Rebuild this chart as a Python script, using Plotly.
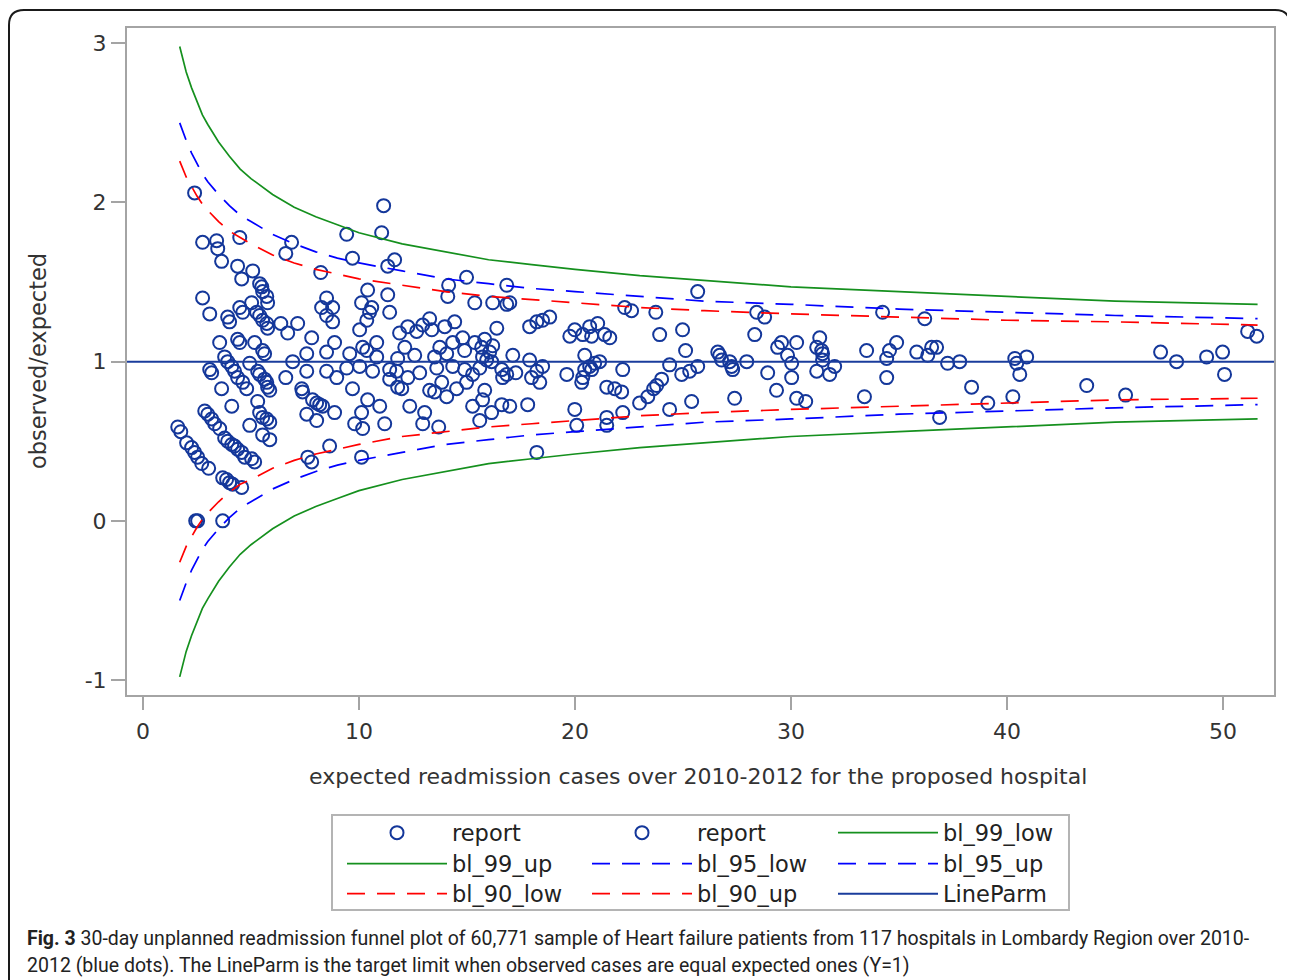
import plotly.graph_objects as go

# ---------------- data ----------------
report1_x = [2.39, 2.76, 3.41, 3.46, 3.64, 4.48, 4.38, 5.08, 4.57,
             2.76, 3.09, 3.92, 4.01, 4.48, 4.62, 5.03, 5.26,
             3.55, 4.38, 4.48, 5.17,
             3.78, 3.92, 4.11, 4.24, 4.38, 4.62, 4.80,
             4.94, 3.09, 3.18, 3.64, 4.11, 4.94, 5.31,
             2.86, 3.00, 3.18, 3.32, 3.55,
             3.78, 3.92, 4.11, 4.24, 4.38, 4.57, 4.71, 5.03,
             1.61, 1.75,
             2.02, 2.25, 2.39, 2.53, 2.72, 3.04,
             3.69, 3.87, 4.01, 4.15, 4.57,
             2.44, 2.53, 3.69,
             6.88, 6.61, 8.23,
             5.40, 5.50, 5.54, 5.73, 5.77,
             5.40, 5.54, 5.73, 5.77,
             6.38, 6.70, 7.16,
             8.50, 8.27, 8.78, 8.50, 8.78,
             7.81, 7.58, 8.50, 8.87,
             5.54, 5.63, 6.93,
             5.31, 5.40, 5.63, 5.73, 5.77, 5.87,
             6.61, 7.58, 8.50,
             7.35, 7.39,
             7.85, 8.04, 8.18, 8.32,
             8.87, 7.58, 8.04,
             5.40, 5.54, 5.73, 5.87,
             5.54, 5.87,
             5.17,
             7.63, 7.81, 8.64,
             11.14, 11.05, 9.43, 9.70, 11.65, 11.33,
             10.40, 10.12, 10.59, 10.49, 10.36, 10.03,
             11.33, 11.42,
             8.97,
             9.57, 10.17, 10.36, 10.82, 10.82,
             10.03, 10.63, 9.43,
             11.88, 12.26, 12.67, 12.95, 13.27,
             12.12, 12.58, 11.79,
             11.42, 11.74, 12.26, 12.81,
             11.42, 11.79, 11.98, 13.27,
             9.70,
             10.40, 10.96, 10.12, 9.80, 10.17, 11.19, 12.35, 13.04, 12.95,
             10.12]
report1_y = [2.06, 1.75, 1.76, 1.71, 1.63, 1.78, 1.60, 1.57, 1.52,
             1.40, 1.30, 1.28, 1.25, 1.34, 1.31, 1.37, 1.31,
             1.12, 1.14, 1.12, 1.12,
             1.03, 1.00, 0.97, 0.94, 0.90, 0.87, 0.83,
             0.99, 0.95, 0.93, 0.83, 0.72, 0.60, 0.75,
             0.69, 0.67, 0.64, 0.61, 0.58,
             0.52, 0.50, 0.48, 0.47, 0.45, 0.43, 0.40, 0.39,
             0.59, 0.56,
             0.49, 0.46, 0.43, 0.40, 0.36, 0.33,
             0.27, 0.26, 0.24, 0.23, 0.21,
             0.0, 0.0, 0.0,
             1.75, 1.68, 1.56,
             1.49, 1.47, 1.44, 1.41, 1.37,
             1.29, 1.26, 1.24, 1.21,
             1.24, 1.18, 1.24,
             1.40, 1.34, 1.34, 1.29, 1.25,
             1.15, 1.05, 1.06, 1.12,
             1.07, 1.05, 1.00,
             0.94, 0.92, 0.89, 0.87, 0.84, 0.82,
             0.90, 0.94, 0.94,
             0.83, 0.81,
             0.76, 0.74, 0.73, 0.72,
             0.68, 0.67, 0.63,
             0.68, 0.65, 0.64, 0.62,
             0.54, 0.51,
             0.37,
             0.40, 0.37, 0.47,
             1.98, 1.81, 1.80, 1.65, 1.64, 1.60,
             1.45, 1.37, 1.34, 1.31, 1.26, 1.20,
             1.42, 1.31,
             0.90,
             1.05, 1.09, 1.07, 1.12, 1.03,
             0.97, 0.94, 0.96,
             1.18, 1.22, 1.19, 1.23, 1.27,
             1.09, 1.04, 1.02,
             0.95, 0.94, 0.90, 0.93,
             0.89, 0.84, 0.83, 0.82,
             0.83,
             0.76, 0.72, 0.68, 0.61, 0.58, 0.61, 0.72, 0.68, 0.61,
             0.40]

report2_x = [14.98, 14.15, 14.11, 16.84,
             15.36, 16.19, 16.84, 16.98,
             13.37, 13.97, 14.43, 16.38, 17.90, 18.23,
             14.80, 14.34, 13.74, 15.36, 15.82, 16.19, 15.68, 16.05, 14.89, 14.06, 13.50, 15.72, 15.91, 16.14,
             17.12, 17.90,
             13.60, 14.34, 14.89, 15.26, 15.59, 16.61, 16.65, 16.84, 17.26,
             17.99, 18.23,
             13.83, 13.50, 14.06, 14.52, 14.98, 15.82, 15.72, 15.26, 16.14, 15.59, 16.61, 16.98, 17.81,
             13.69, 18.23,
             18.50, 18.83, 18.50, 18.37,
             22.30, 22.62, 23.74,
             19.99, 19.76, 20.36, 20.68, 21.05, 20.77, 21.37, 21.61,
             23.92,
             20.45, 20.91, 21.14, 20.68, 20.45, 20.36, 20.31, 20.77,
             19.62, 22.21, 24.38,
             21.47, 21.84, 22.16,
             24.01, 23.78, 23.64, 23.37, 22.99,
             19.99, 21.47, 22.21, 24.38,
             20.08, 21.47,
             25.68, 28.41, 28.78, 34.24, 24.98, 28.32, 25.12,
             26.61, 26.70, 26.79, 27.16, 27.25, 27.30, 27.95,
             29.56, 29.38, 30.26, 29.84, 30.03,
             31.33, 31.19, 31.42, 31.46, 31.46,
             33.50, 34.56, 34.43, 34.89,
             24.94, 25.31, 25.68,
             28.92, 30.03, 31.19, 31.79, 32.02, 34.43,
             29.33, 25.40, 27.39, 30.26, 30.68, 33.40,
             36.19, 35.82, 36.33, 36.51, 36.74, 37.25, 37.81,
             40.36, 40.45, 40.59, 40.91,
             38.36, 39.11, 40.27, 36.88, 43.69, 45.49,
             47.11, 47.85, 49.24, 49.98, 50.07, 51.14, 51.56]
report2_y = [1.53, 1.48, 1.41, 1.48,
             1.37, 1.37, 1.36, 1.37,
             1.20, 1.22, 1.25, 1.21, 1.22, 1.25,
             1.15, 1.12, 1.09, 1.12, 1.14, 1.10, 1.09, 1.06, 1.07, 1.05, 1.03, 1.03, 1.01, 1.00,
             1.04, 1.01,
             0.96, 0.97, 0.95, 0.92, 0.96, 0.95, 0.90, 0.92, 0.93,
             0.90, 0.94,
             0.87, 0.81, 0.78, 0.83, 0.87, 0.82, 0.76, 0.72, 0.68, 0.63, 0.73, 0.72, 0.73,
             0.59, 0.43,
             1.26, 1.28, 0.97, 0.87,
             1.34, 1.32, 1.31,
             1.20, 1.16, 1.17, 1.22, 1.24, 1.16, 1.17, 1.15,
             1.17,
             1.04, 0.99, 1.00, 0.97, 0.95, 0.90, 0.87, 0.95,
             0.92, 0.95, 0.98,
             0.84, 0.83, 0.81,
             0.89, 0.85, 0.83, 0.78, 0.74,
             0.70, 0.65, 0.68, 0.70,
             0.60, 0.60,
             1.44, 1.31, 1.28, 1.31, 1.20, 1.17, 1.07,
             1.06, 1.04, 1.01, 1.00, 0.97, 0.95, 1.00,
             1.12, 1.09, 1.12, 1.04, 0.99,
             1.15, 1.09, 1.07, 1.05, 1.01,
             1.07, 1.07, 1.02, 1.12,
             0.92, 0.94, 0.97,
             0.93, 0.90, 0.94, 0.92, 0.97, 0.90,
             0.82, 0.75, 0.77, 0.77, 0.75, 0.78,
             1.27, 1.06, 1.04, 1.09, 1.09, 0.99, 1.00,
             1.02, 0.99, 0.92, 1.03,
             0.84, 0.74, 0.78, 0.65, 0.85, 0.79,
             1.06, 1.00, 1.03, 1.06, 0.92, 1.19, 1.16]

limit_x = [1.7, 1.85, 2.0, 2.25, 2.5, 2.75, 3.0, 3.5, 4.0, 4.5, 5.0, 6.0, 7.0, 8.0,
           9.0, 10.0, 12.0, 14.0, 16.0, 18.0, 20.0, 23.0, 26.0, 30.0, 35.0, 40.0, 45.0, 51.6]
bl_99_up = [2.98, 2.89, 2.82, 2.72, 2.63, 2.55, 2.49, 2.38, 2.29, 2.21, 2.15, 2.05, 1.97, 1.91,
            1.86, 1.81, 1.74, 1.69, 1.64, 1.61, 1.58, 1.54, 1.51, 1.47, 1.44, 1.41, 1.38, 1.36]
bl_99_low = [-0.98, -0.89, -0.82, -0.72, -0.63, -0.55, -0.49, -0.38, -0.29, -0.21, -0.15, -0.05, 0.03, 0.09,
             0.14, 0.19, 0.26, 0.31, 0.36, 0.39, 0.42, 0.46, 0.49, 0.53, 0.56, 0.59, 0.62, 0.64]
bl_95_up = [2.50, 2.44, 2.39, 2.31, 2.24, 2.18, 2.13, 2.05, 1.98, 1.92, 1.88, 1.80, 1.74, 1.69,
            1.65, 1.62, 1.57, 1.52, 1.49, 1.46, 1.44, 1.41, 1.38, 1.36, 1.33, 1.31, 1.29, 1.27]
bl_95_low = [-0.50, -0.44, -0.39, -0.31, -0.24, -0.18, -0.13, -0.05, 0.02, 0.08, 0.12, 0.20, 0.26, 0.31,
             0.35, 0.38, 0.43, 0.48, 0.51, 0.54, 0.56, 0.59, 0.62, 0.64, 0.67, 0.69, 0.71, 0.73]
bl_90_up = [2.26, 2.21, 2.16, 2.10, 2.04, 1.99, 1.95, 1.88, 1.82, 1.78, 1.74, 1.67, 1.62, 1.58,
            1.55, 1.52, 1.48, 1.44, 1.41, 1.39, 1.37, 1.34, 1.32, 1.30, 1.28, 1.26, 1.25, 1.23]
bl_90_low = [-0.26, -0.21, -0.16, -0.10, -0.04, 0.01, 0.05, 0.12, 0.18, 0.23, 0.26, 0.33, 0.38, 0.42,
             0.45, 0.48, 0.53, 0.56, 0.59, 0.61, 0.63, 0.66, 0.68, 0.70, 0.72, 0.74, 0.76, 0.77]
lineparm_x = [-0.8, 52.5]
lineparm_y = [1.0, 1.0]

x_ticks = [0, 10, 20, 30, 40, 50]
y_ticks = [-1, 0, 1, 2, 3]
y_ticktext = ["-1", "0", "1", "2", "3"]

x_title = "expected readmission cases over 2010-2012 for the proposed hospital"
y_title = "observed/expected"
caption1 = ("<b>Fig. 3</b> 30-day unplanned readmission funnel plot of 60,771 sample of Heart failure "
            "patients from 117 hospitals in Lombardy Region over 2010-")
caption2 = "2012 (blue dots). The LineParm is the target limit when observed cases are equal expected ones (Y=1)"

# ---------------- styles ----------------
FONT = "DejaVu Sans"
CAPFONT = "Roboto, sans-serif"
DOT = "#14379a"
GREEN = "#15901e"
BLUE = "#0000ff"
RED = "#ff0000"
LINEP = "#1a3c9c"
FRAME = "#a4a4a4"
DASH = "18px,12px"

fig = go.Figure()
marker = dict(symbol="circle-open", size=13, color=DOT, line=dict(width=2, color=DOT))
fig.add_trace(go.Scatter(x=report1_x, y=report1_y, mode="markers", name="report",
                         marker=marker, legend="legend"))
fig.add_trace(go.Scatter(x=report2_x, y=report2_y, mode="markers", name="report",
                         marker=marker, legend="legend2"))
fig.add_trace(go.Scatter(x=limit_x, y=bl_99_low, mode="lines", name="bl_99_low",
                         line=dict(color=GREEN, width=1.7), legend="legend3"))
fig.add_trace(go.Scatter(x=limit_x, y=bl_99_up, mode="lines", name="bl_99_up",
                         line=dict(color=GREEN, width=1.7), legend="legend4"))
fig.add_trace(go.Scatter(x=limit_x, y=bl_95_low, mode="lines", name="bl_95_low",
                         line=dict(color=BLUE, width=1.7, dash=DASH), legend="legend5"))
fig.add_trace(go.Scatter(x=limit_x, y=bl_95_up, mode="lines", name="bl_95_up",
                         line=dict(color=BLUE, width=1.7, dash=DASH), legend="legend6"))
fig.add_trace(go.Scatter(x=limit_x, y=bl_90_low, mode="lines", name="bl_90_low",
                         line=dict(color=RED, width=1.7, dash=DASH), legend="legend7"))
fig.add_trace(go.Scatter(x=limit_x, y=bl_90_up, mode="lines", name="bl_90_up",
                         line=dict(color=RED, width=1.7, dash=DASH), legend="legend8"))
fig.add_trace(go.Scatter(x=lineparm_x, y=lineparm_y, mode="lines", name="LineParm",
                         line=dict(color=LINEP, width=2), legend="legend9"))

# The page adds an 8px body margin, so the figure is 8px smaller and everything
# below is given in page pixels and shifted back by OFF.
OFF = 8
W, H = 1295 - OFF, 980 - OFF
L, R, T, B = 127 - OFF, 21, 28 - OFF, 285
PW, PH = W - L - R, H - T - B


def px(xp):
    return (xp - OFF - L) / PW


def py(yp):
    return (H - B - (yp - OFF)) / PH


col_left = [342, 587, 833]
row_mid = [833, 864, 894]
legend_kw = {}
names = ["legend", "legend2", "legend3", "legend4", "legend5", "legend6", "legend7", "legend8", "legend9"]
for i, nm in enumerate(names):
    r, c = divmod(i, 3)
    legend_kw[nm] = dict(x=px(col_left[c]), y=py(row_mid[r]), xanchor="left", yanchor="middle",
                         bgcolor="rgba(0,0,0,0)", borderwidth=0, itemwidth=100,
                         font=dict(family=FONT, size=22.5, color="#222222"))

axis_common = dict(showgrid=False, zeroline=False, showline=True, linecolor=FRAME, linewidth=2,
                   mirror=True, ticks="outside", tickcolor=FRAME, tickwidth=2,
                   tickfont=dict(family=FONT, size=22, color="#333333"))

rx, ry = 15 / PW, 15 / PH
x0, x1 = px(9), px(1290)
ytop, ybot = py(10), py(995)
border_path = (f"M{x0},{ybot} L{x0},{ytop - ry} Q{x0},{ytop} {x0 + rx},{ytop} "
               f"L{x1 - rx},{ytop} Q{x1},{ytop} {x1},{ytop - ry} L{x1},{ybot}")

fig.update_layout(
    width=W, height=H,
    margin=dict(l=L, r=R, t=T, b=B, pad=0),
    paper_bgcolor="white", plot_bgcolor="white",
    showlegend=True,
    xaxis=dict(range=[-0.74, 52.36], tickvals=x_ticks, ticklen=13, ticklabelstandoff=3, **axis_common),
    yaxis=dict(range=[-1.094, 3.096], tickvals=y_ticks, ticktext=y_ticktext, ticklen=14, **axis_common),
    shapes=[
        dict(type="rect", xref="paper", yref="paper", x0=px(332), x1=px(1069), y0=py(910), y1=py(815),
             line=dict(color="#b4b4b4", width=2), fillcolor="rgba(0,0,0,0)"),
        dict(type="path", xref="paper", yref="paper", path=border_path,
             line=dict(color="#1a1a1a", width=2)),
    ],
    annotations=[
        dict(text=y_title, xref="paper", yref="paper", x=px(38), y=py(361), textangle=-90,
             showarrow=False, xanchor="center", yanchor="middle",
             font=dict(family=FONT, size=22.5, color="#333333")),
        dict(text=x_title, xref="paper", yref="paper", x=px(698), y=py(776),
             showarrow=False, xanchor="center", yanchor="middle",
             font=dict(family=FONT, size=22, color="#333333")),
        dict(text=caption1, xref="paper", yref="paper", x=px(25), y=py(938),
             showarrow=False, xanchor="left", yanchor="middle",
             font=dict(family=CAPFONT, size=19.5, color="#222222")),
        dict(text=caption2, xref="paper", yref="paper", x=px(25), y=py(965),
             showarrow=False, xanchor="left", yanchor="middle",
             font=dict(family=CAPFONT, size=19.5, color="#222222")),
    ],
    **legend_kw,
)

fig.write_html("out.html")
